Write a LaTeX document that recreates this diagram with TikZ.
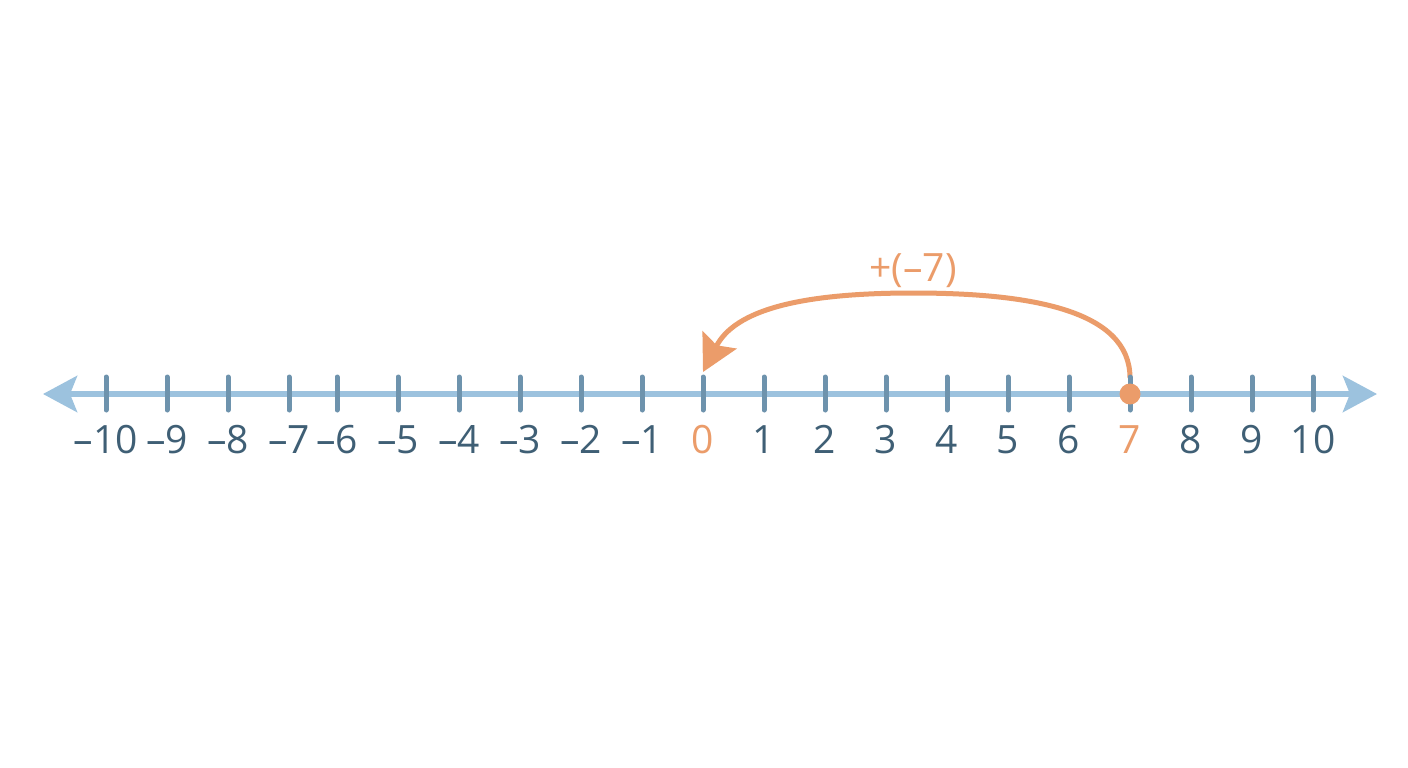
\documentclass[tikz,border=0pt]{standalone}
\usepackage{fontspec}
\setmainfont{Open Sans}
\usetikzlibrary{arrows.meta}
\definecolor{axisblue}{HTML}{9CC2DE}
\definecolor{tickblue}{HTML}{6E93AD}
\definecolor{labelblue}{HTML}{3F5F75}
\definecolor{jumporange}{HTML}{EB9C6A}
\tikzset{
  axisline/.style={draw=axisblue, line width=6pt, {Stealth[length=34pt,width=36pt,inset=7pt]}-{Stealth[length=34pt,width=36pt,inset=7pt]}},
  tickmark/.style={draw=tickblue, line width=5pt, line cap=round},
  numlabel/.style={anchor=base, text=labelblue, inner sep=0pt, font=\fontsize{39}{39}\selectfont},
  hilabel/.style={numlabel, text=jumporange},
  jumparrow/.style={draw=jumporange, line width=5pt, -{Stealth[length=36pt,width=38pt,inset=6pt]}},
  dotmark/.style={circle, fill=jumporange, minimum size=21pt, inner sep=0pt}
}
\begin{document}
\begin{tikzpicture}[x=1pt,y=-1pt]
\useasboundingbox[fill=white] (0,0) rectangle (1408,768);
% jump arc (drawn first so ticks sit on top)
\coordinate (start) at (1130,378);
\coordinate (top) at (913,293);
\coordinate (end) at (703,372);
\draw[jumparrow] (start) .. controls (1130,310) and (1030,293) .. (top)
                 .. controls (800,293) and (735,310) .. (end);
% axis
\coordinate (axL) at (43,394);
\coordinate (axR) at (1377,394);
\draw[axisline] (axL) -- (axR);
% ticks and labels
\foreach \v/\x in {-10/106,-9/167,-8/228,-7/289,-6/337,-5/398,-4/459,-3/520,-2/581,-1/642,1/764,2/825,3/886,4/947,5/1008,6/1069,8/1191,9/1252,10/1313}{
  \coordinate (t\v a) at (\x,377);
  \coordinate (t\v b) at (\x,410);
  \draw[tickmark] (t\v a) -- (t\v b);
  \ifnum\v<0
    \node[numlabel] (l\v) at (\x,453) {–\the\numexpr-\v\relax};
  \else
    \node[numlabel] (l\v) at (\x,453) {\v};
  \fi
}
\foreach \v/\x in {0/703,7/1130}{
  \coordinate (t\v a) at (\x,377);
  \coordinate (t\v b) at (\x,410);
  \draw[tickmark] (t\v a) -- (t\v b);
  \node[hilabel] (l\v) at (\x,453) {\v};
}
\node[dotmark] (dot7) at (1130,394) {};
\node[hilabel] (jumplabel) at (913,281) {+(–7)};
\end{tikzpicture}
\end{document}
